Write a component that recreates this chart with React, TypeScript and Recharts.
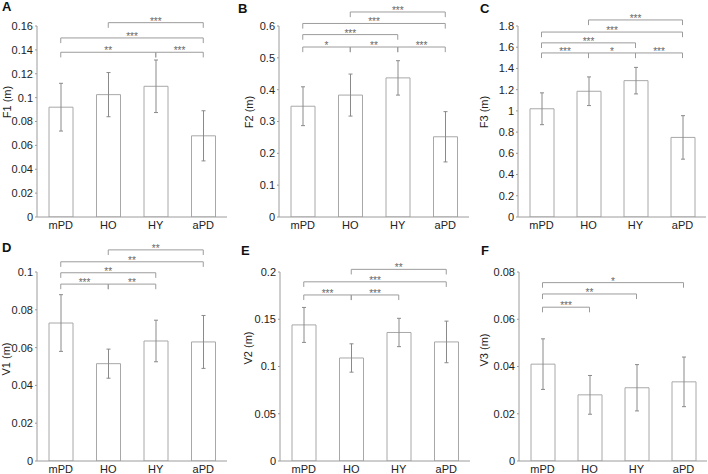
import React from "react";
import { BarChart, Bar, XAxis, YAxis, ErrorBar, ReferenceLine } from "recharts";

// groups on the x axis of every panel
const groups = ["mPD", "HO", "HY", "aPD"];

// means and symmetric error (SD) per panel
const f1Mean = [0.092, 0.1025, 0.1095, 0.068];
const f1Err = [0.02, 0.0185, 0.022, 0.021];
const f2Mean = [0.348, 0.383, 0.437, 0.252];
const f2Err = [0.061, 0.066, 0.054, 0.079];
const f3Mean = [1.02, 1.185, 1.285, 0.75];
const f3Err = [0.15, 0.135, 0.125, 0.205];
const v1Mean = [0.073, 0.0515, 0.0635, 0.063];
const v1Err = [0.015, 0.0077, 0.011, 0.014];
const v2Mean = [0.144, 0.109, 0.136, 0.126];
const v2Err = [0.0185, 0.015, 0.015, 0.022];
const v3Mean = [0.041, 0.028, 0.031, 0.0335];
const v3Err = [0.0107, 0.0082, 0.0098, 0.0105];

// y ticks
const f1Ticks = [0, 0.02, 0.04, 0.06, 0.08, 0.1, 0.12, 0.14, 0.16];
const f2Ticks = [0, 0.1, 0.2, 0.3, 0.4, 0.5, 0.6];
const f3Ticks = [0, 0.2, 0.4, 0.6, 0.8, 1, 1.2, 1.4, 1.6, 1.8];
const v1Ticks = [0, 0.02, 0.04, 0.06, 0.08, 0.1];
const v2Ticks = [0, 0.05, 0.1, 0.15, 0.2];
const v3Ticks = [0, 0.02, 0.04, 0.06, 0.08];

// significance brackets: [from, to, level (data units), stars]
type Bracket = [string, string, number, string];
const f1Brackets: Bracket[] = [
  ["HO", "aPD", 0.1628, "***"],
  ["mPD", "aPD", 0.15, "***"],
  ["mPD", "HY", 0.138, "**"],
  ["HY", "aPD", 0.138, "***"],
];
const f2Brackets: Bracket[] = [
  ["HO", "aPD", 0.644, "***"],
  ["mPD", "aPD", 0.608, "***"],
  ["mPD", "HY", 0.573, "***"],
  ["mPD", "HO", 0.534, "*"],
  ["HO", "HY", 0.534, "**"],
  ["HY", "aPD", 0.534, "***"],
];
const f3Brackets: Bracket[] = [
  ["HO", "aPD", 1.857, "***"],
  ["mPD", "aPD", 1.743, "***"],
  ["mPD", "HY", 1.641, "***"],
  ["mPD", "HO", 1.546, "***"],
  ["HO", "HY", 1.546, "*"],
  ["HY", "aPD", 1.546, "***"],
];
const v1Brackets: Bracket[] = [
  ["HO", "aPD", 0.1117, "**"],
  ["mPD", "aPD", 0.1054, "**"],
  ["mPD", "HY", 0.0996, "**"],
  ["mPD", "HO", 0.0936, "***"],
  ["HO", "HY", 0.0936, "**"],
];
const v2Brackets: Bracket[] = [
  ["HO", "aPD", 0.2028, "**"],
  ["mPD", "aPD", 0.1896, "***"],
  ["mPD", "HO", 0.1757, "***"],
  ["HO", "HY", 0.1757, "***"],
];
const v3Brackets: Bracket[] = [
  ["mPD", "aPD", 0.0755, "*"],
  ["mPD", "HY", 0.0707, "**"],
  ["mPD", "HO", 0.0651, "***"],
];

const AXIS = "#9c9c9c";
const TEXT = "#222";
const FONT = "'Liberation Sans', Arial, Helvetica, sans-serif";

interface PanelProps {
  letter: string;
  yLabel: string;
  mean: number[];
  err: number[];
  ticks: number[];
  brackets: Bracket[];
  left: number;
  top: number;
  height: number;
  marginTop: number;
  yWidth: number;
  rightMargin: number;
  labelX: number;
  labelY: number;
  letterX: number;
  letterY: number;
}

function Panel(p: PanelProps) {
  const data = groups.map((g, i) => ({ name: g, value: p.mean[i], err: p.err[i] }));
  const max = p.ticks[p.ticks.length - 1];
  const drop = max * 0.027;

  return (
    <>
      <div
        style={{
          position: "absolute",
          left: p.letterX,
          top: p.letterY,
          fontSize: 13,
          fontWeight: "bold",
          lineHeight: "15px",
          color: "#111",
        }}
      >
        {p.letter}
      </div>
      <div style={{ position: "absolute", left: p.left, top: p.top }}>
        <BarChart
          width={236}
          height={p.height}
          data={data}
          margin={{ top: p.marginTop, right: p.rightMargin, bottom: 0, left: 0 }}
          barSize={24}
        >
          <XAxis
            dataKey="name"
            height={20}
            interval={0}
            tickLine={false}
            tickSize={0}
            tickMargin={4}
            axisLine={{ stroke: AXIS }}
            tick={{ fontSize: 11, fill: TEXT }}
          />
          <YAxis
            width={p.yWidth}
            domain={[0, max]}
            ticks={p.ticks}
            interval={0}
            allowDataOverflow
            tickSize={2}
            tickMargin={2}
            tickLine={{ stroke: AXIS }}
            axisLine={{ stroke: AXIS }}
            tick={{ fontSize: 11, fill: TEXT }}
            label={{
              value: p.yLabel,
              content: () => (
                <text
                  x={p.labelX}
                  y={p.labelY}
                  transform={`rotate(-90 ${p.labelX} ${p.labelY})`}
                  textAnchor="middle"
                  dominantBaseline="central"
                  fontSize={11}
                  fill={TEXT}
                >
                  {p.yLabel}
                </text>
              ),
            }}
          />
          <Bar dataKey="value" fill="#fff" stroke="#a8a8a8" strokeWidth={1} isAnimationActive={false}>
            <ErrorBar dataKey="err" width={2} stroke="#8a8a8a" strokeWidth={1} />
          </Bar>
          {p.brackets.map(([a, b, y, stars], i) => [
            <ReferenceLine
              key={`h${i}`}
              segment={[
                { x: a, y },
                { x: b, y },
              ]}
              stroke={AXIS}
              ifOverflow="visible"
              label={{ value: stars, position: "top", offset: -2, fontSize: 10, fill: "#666", opacity: 0.99 }}
            />,
            <ReferenceLine
              key={`l${i}`}
              segment={[
                { x: a, y },
                { x: a, y: y - drop },
              ]}
              stroke={AXIS}
              ifOverflow="visible"
            />,
            <ReferenceLine
              key={`r${i}`}
              segment={[
                { x: b, y },
                { x: b, y: y - drop },
              ]}
              stroke={AXIS}
              ifOverflow="visible"
            />,
          ])}
        </BarChart>
      </div>
    </>
  );
}

export default function App() {
  const row1 = { top: 0, height: 237, marginTop: 26 };
  const row2 = { top: 237, height: 244, marginTop: 35 };
  return (
    <div
      style={{
        position: "absolute",
        left: 0,
        top: 0,
        width: 708,
        height: 474,
        overflow: "hidden",
        background: "#fff",
        fontFamily: FONT,
      }}
    >
      <Panel letter="A" yLabel="F1 (m)" mean={f1Mean} err={f1Err} ticks={f1Ticks} brackets={f1Brackets}
        left={0} {...row1} yWidth={37} rightMargin={9} labelX={6.5} labelY={102} letterX={2} letterY={-1} />
      <Panel letter="B" yLabel="F2 (m)" mean={f2Mean} err={f2Err} ticks={f2Ticks} brackets={f2Brackets}
        left={236} {...row1} yWidth={43} rightMargin={3} labelX={13} labelY={112} letterX={238} letterY={1} />
      <Panel letter="C" yLabel="F3 (m)" mean={f3Mean} err={f3Err} ticks={f3Ticks} brackets={f3Brackets}
        left={472} {...row1} yWidth={46} rightMargin={2} labelX={11.5} labelY={112} letterX={480} letterY={1} />
      <Panel letter="D" yLabel="V1 (m)" mean={v1Mean} err={v1Err} ticks={v1Ticks} brackets={v1Brackets}
        left={0} {...row2} yWidth={37} rightMargin={9} labelX={5.5} labelY={122} letterX={2} letterY={240} />
      <Panel letter="E" yLabel="V2 (m)" mean={v2Mean} err={v2Err} ticks={v2Ticks} brackets={v2Brackets}
        left={236} {...row2} yWidth={44} rightMargin={2} labelX={12} labelY={111} letterX={241} letterY={243} />
      <Panel letter="F" yLabel="V3 (m)" mean={v3Mean} err={v3Err} ticks={v3Ticks} brackets={v3Brackets}
        left={472} {...row2} yWidth={47} rightMargin={1} labelX={11.5} labelY={113} letterX={481} letterY={243} />
    </div>
  );
}
